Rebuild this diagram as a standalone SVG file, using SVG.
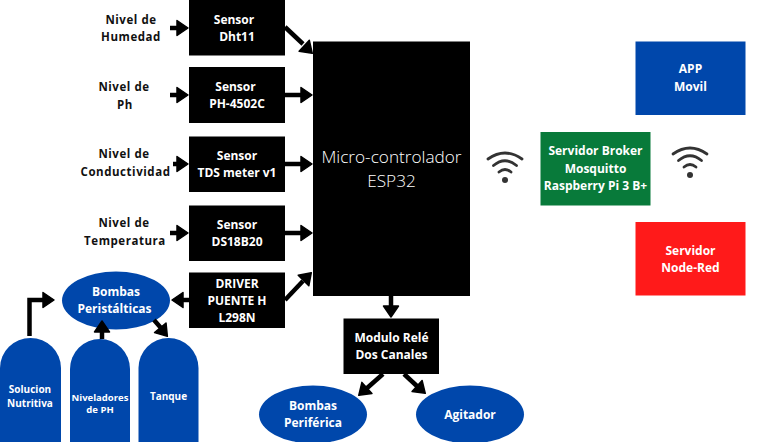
<svg xmlns="http://www.w3.org/2000/svg" width="779" height="442" viewBox="0 0 779 442">
<style>
text{font-family:"Open Sans","Liberation Sans",sans-serif;font-weight:700;font-size:12px;text-anchor:middle;fill:#fff}
.lbl{fill:#111;font-size:11.500px;letter-spacing:.55px}
.t{font-size:10px}
.e{font-weight:300;font-size:17.200px}
.k{fill:#000}.b{fill:#0047ab}
.c line,.c path{stroke:#000;stroke-width:4.500;fill:none}
.h{fill:#000;stroke:#000;stroke-width:1.500;stroke-linejoin:round}
.w path{fill:none;stroke:#333;stroke-width:2.800;stroke-linecap:round}
.w circle{fill:#333}
</style>
<defs>
<polygon id="ah" class="h" points="-1,0 -12,-7.500 -12,7.500"/>
<g id="wifi" class="w">
<path d="M-17,-8 Q0,-20 17,-8"/><path d="M-11.500,-1.500 Q0,-11 11.500,-1.500"/><path d="M-6,5 Q0,0 6,5"/><circle cx="0" cy="13" r="3"/>
</g>
</defs>

<g id="label-humedad"><text class="lbl" x="131" y="24">Nivel de</text><text class="lbl" x="131" y="41">Humedad</text></g>
<g id="label-ph"><text class="lbl" x="124" y="91">Nivel de</text><text class="lbl" x="125" y="109">Ph</text></g>
<g id="label-conductividad"><text class="lbl" x="124" y="158">Nivel de</text><text class="lbl" x="125.500" y="176">Conductividad</text></g>
<g id="label-temperatura"><text class="lbl" x="124" y="227">Nivel de</text><text class="lbl" x="125" y="245">Temperatura</text></g>

<g id="sensor-dht11"><rect class="k" x="189" y="0" width="96" height="55.500"/><text x="234" y="24">Sensor</text><text x="237" y="41">Dht11</text></g>
<g id="sensor-ph"><rect class="k" x="189" y="67" width="96" height="56"/><text x="235.500" y="91">Sensor</text><text x="237" y="108">PH-4502C</text></g>
<g id="sensor-tds"><rect class="k" x="189" y="136.500" width="96" height="55.500"/><text x="237" y="160">Sensor</text><text x="237" y="177">TDS meter v1</text></g>
<g id="sensor-ds18b20"><rect class="k" x="189" y="205.500" width="96" height="55.500"/><text x="237" y="229">Sensor</text><text x="237" y="246">DS18B20</text></g>
<g id="driver"><rect class="k" x="189" y="272.500" width="96" height="55.500"/><text x="237" y="288">DRIVER</text><text x="237" y="305">PUENTE H</text><text x="237" y="322">L298N</text></g>
<g id="esp32"><rect class="k" x="313" y="41.500" width="157" height="254.500"/><text class="e" x="391.500" y="163">Micro-controlador</text><text class="e" x="391.500" y="187">ESP32</text></g>
<g id="rele"><rect class="k" x="343.500" y="318.500" width="95.500" height="55.500"/><text x="391.500" y="342">Modulo Relé</text><text x="391.500" y="359">Dos Canales</text></g>

<g id="bombas-peristalticas"><ellipse class="b" cx="116" cy="300.500" rx="54" ry="29"/><text x="116" y="296">Bombas</text><text x="114.500" y="313">Peristálticas</text></g>
<g id="solucion"><path class="b" d="M0,442 V368 A30.500,30 0 0 1 61,368 V442 Z"/><text class="t" x="30" y="393">Solucion</text><text class="t" x="30" y="407">Nutritiva</text></g>
<g id="niveladores"><path class="b" d="M70,442 V369 A30,30 0 0 1 130,369 V442 Z"/><text x="100" y="401" style="font-size:9.500px">Niveladores</text><text x="100" y="413" style="font-size:9.500px">de PH</text></g>
<g id="tanque"><path class="b" d="M138.500,442 V368 A30,30 0 0 1 198.500,368 V442 Z"/><text class="t" x="168.500" y="400">Tanque</text></g>
<g id="bombas-periferica"><ellipse class="b" cx="313" cy="414.500" rx="54" ry="29"/><text x="313" y="410">Bombas</text><text x="313" y="427">Periférica</text></g>
<g id="agitador"><ellipse class="b" cx="470" cy="414.500" rx="54" ry="29"/><text x="470" y="419">Agitador</text></g>

<g id="wifi-esp"><use href="#wifi" x="505" y="167"/></g>
<g id="wifi-broker"><use href="#wifi" x="690" y="162"/></g>
<g id="broker"><rect x="540.500" y="132" width="110" height="73.500" fill="#087a3a"/><text x="595.500" y="155">Servidor Broker</text><text x="595.500" y="173">Mosquitto</text><text x="595.500" y="190">Raspberry Pi 3 B+</text></g>
<g id="app"><rect class="b" x="635.500" y="41.500" width="110" height="73.500"/><text x="690.500" y="73">APP</text><text x="690.500" y="91">Movil</text></g>
<g id="node-red"><rect x="635.500" y="222" width="110" height="73.500" fill="#ff1a1a"/><text x="690.500" y="255">Servidor</text><text x="690.500" y="272">Node-Red</text></g>

<g id="connectors" class="c">
<line x1="170" y1="28" x2="180" y2="28"/><use href="#ah" x="189" y="28"/>
<line x1="170" y1="95" x2="180" y2="95"/><use href="#ah" x="189" y="95"/>
<line x1="173" y1="164" x2="180" y2="164"/><use href="#ah" x="189" y="164"/>
<line x1="170" y1="233" x2="180" y2="233"/><use href="#ah" x="189" y="233"/>
<line x1="285" y1="27" x2="303" y2="44"/><use href="#ah" transform="translate(313,54) rotate(43)"/>
<line x1="285" y1="95" x2="304" y2="95"/><use href="#ah" x="313" y="95"/>
<line x1="285" y1="164" x2="304" y2="164"/><use href="#ah" x="313" y="164"/>
<line x1="285" y1="233" x2="304" y2="233"/><use href="#ah" x="313" y="233"/>
<line x1="285" y1="300" x2="303" y2="281"/><use href="#ah" transform="translate(312,272) rotate(-45)"/>
<line x1="189" y1="300" x2="180" y2="300"/><use href="#ah" transform="translate(171,300) rotate(180)"/>
<path d="M29.500,336 V300 H46"/><use href="#ah" x="55" y="300"/>
<line x1="102" y1="339" x2="102" y2="329"/><use href="#ah" transform="translate(102,320) rotate(-90)"/>
<line x1="154" y1="320" x2="161" y2="328"/><use href="#ah" transform="translate(168,337) rotate(50)"/>
<line x1="391" y1="296" x2="391" y2="309"/><use href="#ah" transform="translate(391,318) rotate(90)"/>
<line x1="383" y1="374" x2="366" y2="389"/><use href="#ah" transform="translate(358,396) rotate(138)"/>
<line x1="404" y1="374" x2="419" y2="388"/><use href="#ah" transform="translate(426,394) rotate(42)"/>
</g>
</svg>
